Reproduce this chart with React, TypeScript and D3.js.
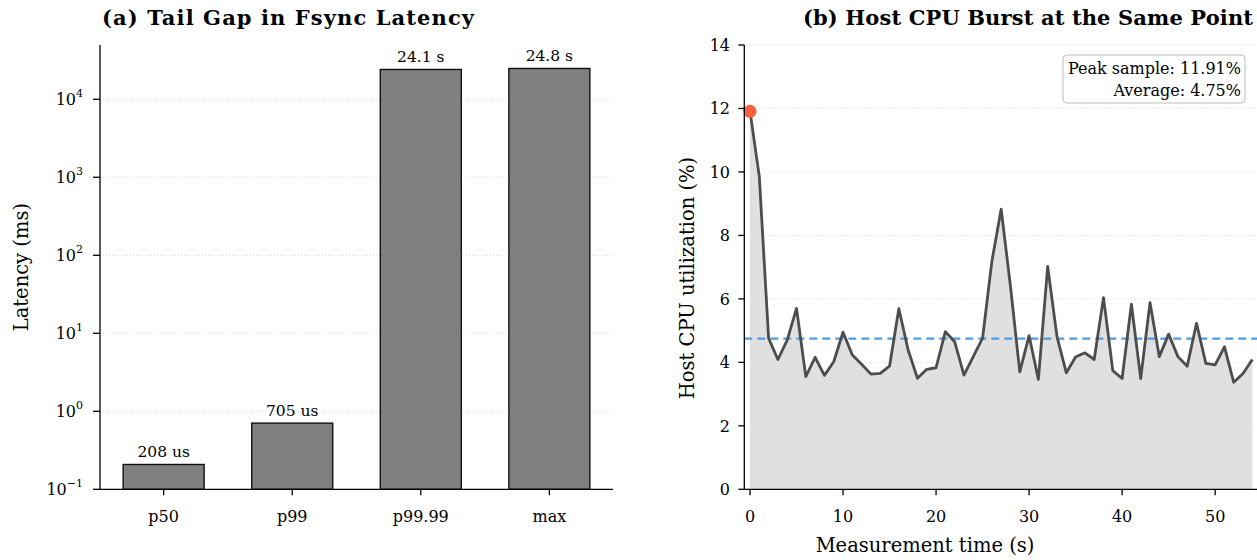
import React from "react";
import * as d3 from "d3";

// ---- Data ----
const categories = ["p50", "p99", "p99.99", "max"];
const latencyMs = [0.208, 0.705, 24100, 24800];
const latencyLabels = ["208 us", "705 us", "24.1 s", "24.8 s"];
const logTicks = [0.1, 1, 10, 100, 1000, 10000];
const logTickExps = ["−1", "0", "1", "2", "3", "4"];

const cpuTime = [
  0, 1, 2, 3, 4, 5, 6, 7, 8, 9, 10, 11, 12, 13, 14, 15, 16, 17, 18, 19, 20,
  21, 22, 23, 24, 25, 26, 27, 28, 29, 30, 31, 32, 33, 34, 35, 36, 37, 38, 39,
  40, 41, 42, 43, 44, 45, 46, 47, 48, 49, 50, 51, 52, 53, 54,
];
const cpuUtil = [
  11.91, 9.86, 4.76, 4.09, 4.7, 5.7, 3.55, 4.16, 3.59, 4.02, 4.95, 4.23, 3.94,
  3.63, 3.65, 3.88, 5.69, 4.39, 3.5, 3.78, 3.83, 4.97, 4.65, 3.6, 4.18, 4.76,
  7.18, 8.83, 6.39, 3.7, 4.84, 3.46, 7.02, 4.81, 3.67, 4.17, 4.3, 4.09, 6.04,
  3.74, 3.49, 5.83, 3.49, 5.88, 4.18, 4.89, 4.18, 3.88, 5.23, 3.97, 3.92,
  4.49, 3.37, 3.65, 4.09,
];
const cpuAverage = 4.75;
const cpuPeak = 11.91;
const cpuYTicks = [0, 2, 4, 6, 8, 10, 12, 14];
const cpuXTicks = [0, 10, 20, 30, 40, 50];

const FONT = "'DejaVu Serif', serif";

export default function App() {
  const W = 1257;
  const H = 560;

  // ---- Left panel geometry ----
  const L = { x0: 100, x1: 613, y0: 45, y1: 489.3 };
  const lx = d3.scaleLinear().domain([-0.495, 3.495]).range([L.x0, L.x1]);
  const ly = d3.scaleLog().domain([0.1, 49600]).range([L.y1, L.y0]);
  const barW = lx(0.63) - lx(0);

  // ---- Right panel geometry ----
  const R = { x0: 744.3, x1: 1257, y0: 45, y1: 489.3 };
  const rx = d3.scaleLinear().domain([-0.613, 54.5]).range([R.x0, R.x1]);
  const ry = d3.scaleLinear().domain([0, 14]).range([R.y1, R.y0]);

  const pts = cpuTime.map((t, i) => [t, cpuUtil[i]] as [number, number]);
  const line = d3
    .line<[number, number]>()
    .x((d) => rx(d[0]))
    .y((d) => ry(d[1]));
  const area = d3
    .area<[number, number]>()
    .x((d) => rx(d[0]))
    .y0(ry(0))
    .y1((d) => ry(d[1]));

  const tickFs = 16;
  const labelFs = 19.5;
  const titleFs = 21;

  return (
    <svg
      width={W}
      height={H}
      style={{ position: "absolute", left: 0, top: 0, background: "#fff" }}
      fontFamily={FONT}
    >
      <rect x={0} y={0} width={W} height={H} fill="#fff" />

      {/* ================= LEFT PANEL ================= */}
      <text
        x={288}
        y={25}
        textAnchor="middle"
        fontSize={titleFs}
        fontWeight="bold"
        textLength={372}
        lengthAdjust="spacing"
      >
        (a) Tail Gap in Fsync Latency
      </text>

      {/* grid */}
      {logTicks.slice(1).map((v) => (
        <line
          key={"lg" + v}
          x1={L.x0}
          x2={L.x1}
          y1={ly(v)}
          y2={ly(v)}
          stroke="#d0d0d0"
          strokeWidth={0.8}
          strokeDasharray="1,2"
        />
      ))}

      {/* bars */}
      {categories.map((c, i) => {
        const yTop = ly(latencyMs[i]);
        return (
          <g key={c}>
            <rect
              x={lx(i) - barW / 2}
              y={yTop}
              width={barW}
              height={L.y1 - yTop}
              fill="#808080"
              stroke="#111"
              strokeWidth={1.4}
            />
            <text
              x={lx(i)}
              y={yTop - 7}
              textAnchor="middle"
              fontSize={15.5}
            >
              {latencyLabels[i]}
            </text>
          </g>
        );
      })}

      {/* axes */}
      <line x1={L.x0} x2={L.x0} y1={L.y0} y2={L.y1} stroke="#000" strokeWidth={1.3} />
      <line x1={L.x0} x2={L.x1} y1={L.y1} y2={L.y1} stroke="#000" strokeWidth={1.3} />
      {logTicks.map((v, i) => (
        <g key={"lt" + v}>
          <line x1={L.x0 - 7} x2={L.x0} y1={ly(v)} y2={ly(v)} stroke="#000" strokeWidth={1.3} />
          <text x={83} y={ly(v) + 6} textAnchor="end" fontSize={tickFs}>
            10
            <tspan dy={-8} fontSize={11}>
              {logTickExps[i]}
            </tspan>
          </text>
        </g>
      ))}
      {categories.map((c, i) => (
        <g key={"lx" + c}>
          <line x1={lx(i)} x2={lx(i)} y1={L.y1} y2={L.y1 + 6} stroke="#000" strokeWidth={1.3} />
          <text x={lx(i)} y={522} textAnchor="middle" fontSize={tickFs}>
            {c}
          </text>
        </g>
      ))}
      <text
        transform={`translate(28, ${(L.y0 + L.y1) / 2}) rotate(-90)`}
        textAnchor="middle"
        fontSize={labelFs}
      >
        Latency (ms)
      </text>

      {/* ================= RIGHT PANEL ================= */}
      <text
        x={1028}
        y={25}
        textAnchor="middle"
        fontSize={titleFs}
        fontWeight="bold"
        textLength={450}
        lengthAdjust="spacing"
      >
        (b) Host CPU Burst at the Same Point
      </text>

      {cpuYTicks.slice(1).map((v) => (
        <line
          key={"rg" + v}
          x1={R.x0}
          x2={R.x1}
          y1={ry(v)}
          y2={ry(v)}
          stroke="#d0d0d0"
          strokeWidth={0.8}
          strokeDasharray="1,2"
        />
      ))}

      <path d={area(pts) || ""} fill="#e0e0e0" />
      <line
        x1={R.x0}
        x2={R.x1}
        y1={ry(cpuAverage)}
        y2={ry(cpuAverage)}
        stroke="#4d9de6"
        strokeWidth={2.2}
        strokeDasharray="8,5"
      />
      <path
        d={line(pts) || ""}
        fill="none"
        stroke="#4d4d4d"
        strokeWidth={2.8}
        strokeLinejoin="round"
      />
      <circle cx={rx(0)} cy={ry(cpuPeak)} r={6.5} fill="#f9603f" />

      {/* legend box */}
      <rect
        x={1063}
        y={55}
        width={182}
        height={48}
        rx={4}
        fill="#fff"
        fillOpacity={0.9}
        stroke="#bbb"
        strokeWidth={1}
      />
      <text x={1241} y={74} textAnchor="end" fontSize={16}>
        Peak sample: {cpuPeak.toFixed(2)}%
      </text>
      <text x={1241} y={96} textAnchor="end" fontSize={16}>
        Average: {cpuAverage.toFixed(2)}%
      </text>

      {/* axes */}
      <line x1={R.x0} x2={R.x0} y1={R.y0} y2={R.y1} stroke="#000" strokeWidth={1.3} />
      <line x1={R.x0} x2={R.x1} y1={R.y1} y2={R.y1} stroke="#000" strokeWidth={1.3} />
      {cpuYTicks.map((v) => (
        <g key={"ry" + v}>
          <line x1={R.x0 - 6} x2={R.x0} y1={ry(v)} y2={ry(v)} stroke="#000" strokeWidth={1.3} />
          <text x={730} y={ry(v) + 6} textAnchor="end" fontSize={tickFs}>
            {v}
          </text>
        </g>
      ))}
      {cpuXTicks.map((v) => (
        <g key={"rx" + v}>
          <line x1={rx(v)} x2={rx(v)} y1={R.y1} y2={R.y1 + 6} stroke="#000" strokeWidth={1.3} />
          <text x={rx(v)} y={522} textAnchor="middle" fontSize={tickFs}>
            {v}
          </text>
        </g>
      ))}
      <text
        transform={`translate(694, 278) rotate(-90)`}
        textAnchor="middle"
        fontSize={labelFs}
      >
        Host CPU utilization (%)
      </text>
      <text x={925} y={552} textAnchor="middle" fontSize={labelFs}>
        Measurement time (s)
      </text>
    </svg>
  );
}
